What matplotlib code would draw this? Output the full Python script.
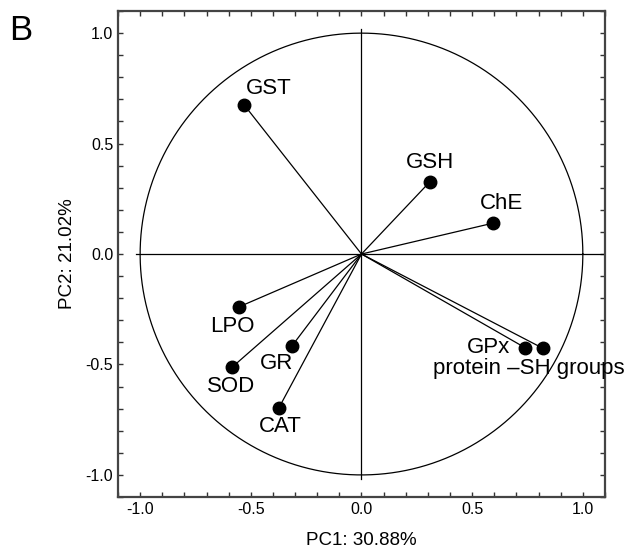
import numpy as np
import matplotlib
matplotlib.use("Agg")
import matplotlib.pyplot as plt
from matplotlib.ticker import MultipleLocator

plt.rcParams['font.family'] = ['Liberation Sans', 'DejaVu Sans']

# loadings
names = ['GST', 'GSH', 'ChE', 'GPx', 'protein \u2013SH groups', 'LPO', 'GR', 'SOD', 'CAT']
pc1 = [-0.530, 0.308, 0.595, 0.739, 0.818, -0.553, -0.314, -0.583, -0.374]
pc2 = [0.675, 0.326, 0.140, -0.424, -0.426, -0.239, -0.416, -0.511, -0.698]
# label offsets (points) and alignment
offsets = [(18, 12), (0, 14), (6, 14), (-11, 0), (-10, -15), (-5, -14), (-11, -13), (-1, -14), (1, -13)]
aligns = ['center', 'center', 'center', 'right', 'center', 'center', 'center', 'center', 'center']

fig = plt.figure(figsize=(6.29, 5.52), dpi=100)
ax = fig.add_axes([0.1876, 0.0996, 0.7742, 0.8804])

t = np.linspace(0, 2 * np.pi, 400)
ax.plot(np.cos(t), np.sin(t), color='black', lw=0.9)
ax.plot([-1.02, 1.1], [0, 0], color='black', lw=0.9)
ax.plot([0, 0], [-1.02, 1.02], color='black', lw=0.9)

for x, y in zip(pc1, pc2):
    ax.plot([0, x], [0, y], color='black', lw=0.9)
ax.plot(pc1, pc2, 'o', color='black', markersize=9)

for n, x, y, off, ha in zip(names, pc1, pc2, offsets, aligns):
    ax.annotate(n, (x, y), xytext=off, textcoords='offset points',
                ha=ha, va='center', fontsize=16, annotation_clip=False)

ax.set_xlim(-1.1, 1.1)
ax.set_ylim(-1.1, 1.1)
ax.xaxis.set_major_locator(MultipleLocator(0.5))
ax.yaxis.set_major_locator(MultipleLocator(0.5))
ax.xaxis.set_minor_locator(MultipleLocator(0.1))
ax.yaxis.set_minor_locator(MultipleLocator(0.1))
ax.xaxis.set_major_formatter(plt.FormatStrFormatter('%.1f'))
ax.yaxis.set_major_formatter(plt.FormatStrFormatter('%.1f'))
ax.tick_params(which='both', direction='in', top=True, right=True, length=3.5,
               width=1, color='#333333', labelsize=11.5)
for s in ax.spines.values():
    s.set_linewidth(1.6)
    s.set_color('#444444')

ax.set_xlabel('PC1: 30.88%', fontsize=13.5, labelpad=11)
ax.set_ylabel('PC2: 21.02%', fontsize=13.5, labelpad=7)
fig.text(0.015, 0.975, 'B', fontsize=25, va='top', ha='left')

fig.savefig('out.png', dpi=100)
